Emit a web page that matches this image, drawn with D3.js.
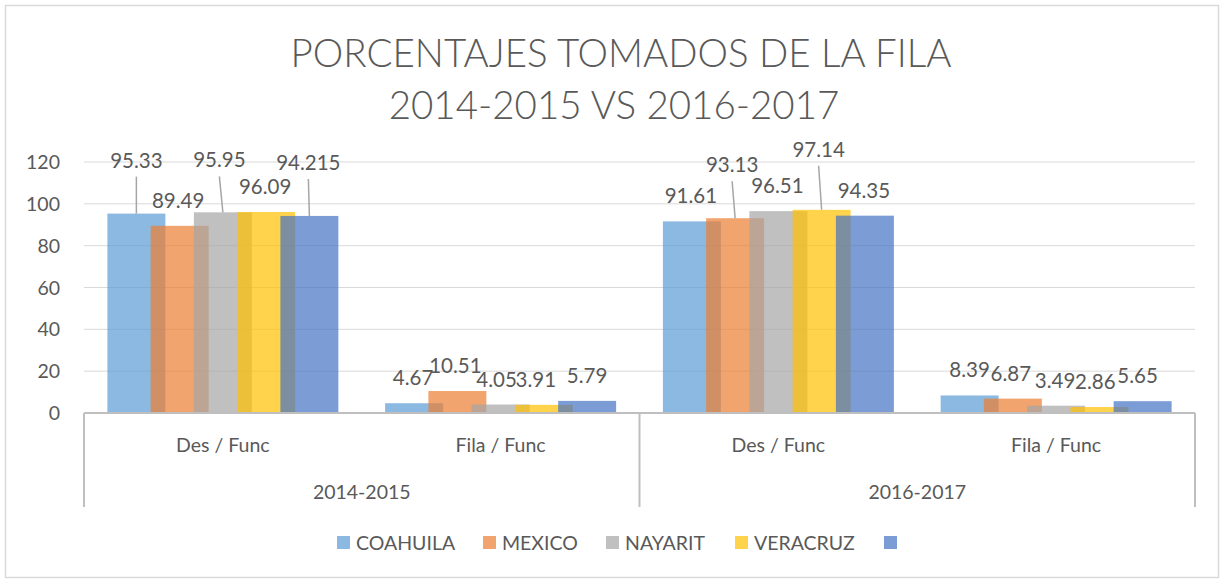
<!DOCTYPE html>
<html>
<head>
<meta charset="utf-8">
<script src="https://cdn.jsdelivr.net/npm/d3@7"></script>
<style>
  body { margin: 0; background: #fff; }
  text { font-family: Lato, "Open Sans", sans-serif; fill: #595959; }
</style>
</head>
<body>
<script>
const W = 1224, H = 580;

// data
const categories = ['Des / Func', 'Fila / Func', 'Des / Func', 'Fila / Func'];
const periods = ['2014-2015', '2016-2017'];
const seriesNames = ['COAHUILA', 'MEXICO', 'NAYARIT', 'VERACRUZ', ''];
const coahuila = [95.33, 4.67, 91.61, 8.39];
const mexico = [89.49, 10.51, 93.13, 6.87];
const nayarit = [95.95, 4.05, 96.51, 3.49];
const veracruz = [96.09, 3.91, 97.14, 2.86];
const fifth = [94.215, 5.79, 94.35, 5.65];
const yTicks = [0, 20, 40, 60, 80, 100, 120];

const colors = ['#5B9BD5', '#ED7D31', '#A5A5A5', '#FFC000', '#4472C4'];
const seriesVals = [coahuila, mexico, nayarit, veracruz, fifth];

// label nudges (label moved off the bar top as in the original), per series per category
const nudge = [
  [[0, -28], [-1, 0], [-1, 0], [0, 0]],
  [[-1.5, 0], [-2, 0], [-3, -28], [-2, 0]],
  [[-3.5, -27], [-4, 0], [-1, 0], [-1, 0]],
  [[-1, 0], [-8, 0], [-3, -35], [-4, 0]],
  [[-1, -28], [0, 0], [-1, 0], [-5, 0]]
];

const plot = { left: 84, right: 1195, top: 162, bottom: 413 };

const svg = d3.select('body').append('svg').attr('width', W).attr('height', H);

// chart border
svg.append('rect')
  .attr('x', 5.5).attr('y', 5.5).attr('width', W - 11).attr('height', H - 8)
  .attr('fill', '#fff').attr('stroke', '#D9D9D9').attr('stroke-width', 1.5);

// title
svg.append('text').text('PORCENTAJES TOMADOS DE LA FILA')
  .attr('x', 621).attr('y', 67).attr('text-anchor', 'middle')
  .attr('font-size', 38.5).attr('font-weight', 300);
svg.append('text').text('2014-2015 VS 2016-2017')
  .attr('x', 614).attr('y', 119).attr('text-anchor', 'middle')
  .attr('font-size', 38.5).attr('font-weight', 300);

const y = d3.scaleLinear().domain([0, 120]).range([plot.bottom, plot.top]);
const x = d3.scaleBand().domain(d3.range(categories.length))
  .range([plot.left, plot.right]).paddingInner(0).paddingOuter(0);

// bars overlap: width 58 of a step of 43.25 inside each group
const barW = x.bandwidth() * 0.2088;
const inner = d3.scaleLinear().domain([0, 4])
  .range([-115.5 + barW / 2, 115.5 - barW / 2]);
const cx = (c, s) => x(c) + x.bandwidth() / 2 + inner(s);

// gridlines
svg.append('g').selectAll('line').data(yTicks.slice(1)).enter().append('line')
  .attr('x1', plot.left).attr('x2', plot.right)
  .attr('y1', d => y(d)).attr('y2', d => y(d))
  .attr('stroke', '#D9D9D9').attr('stroke-width', 1);

// y tick labels
svg.append('g').selectAll('text').data(yTicks).enter().append('text')
  .text(d => d)
  .attr('x', 60).attr('y', d => y(d) + 7)
  .attr('text-anchor', 'end').attr('font-size', 19.5);

// bars
seriesVals.forEach((vals, s) => {
  svg.append('g').selectAll('rect').data(vals).enter().append('rect')
    .attr('x', (d, c) => cx(c, s) - barW / 2)
    .attr('y', d => y(d))
    .attr('width', barW)
    .attr('height', d => y(0) - y(d))
    .attr('fill', colors[s]).attr('fill-opacity', 0.7);
});

// axis lines
svg.append('line')
  .attr('x1', plot.left).attr('x2', plot.right)
  .attr('y1', plot.bottom).attr('y2', plot.bottom)
  .attr('stroke', '#BFBFBF').attr('stroke-width', 2);
[plot.left, x(2), plot.right].forEach(px => {
  svg.append('line')
    .attr('x1', px).attr('x2', px).attr('y1', plot.bottom).attr('y2', 507)
    .attr('stroke', '#BFBFBF').attr('stroke-width', 2);
});

// category labels
svg.append('g').selectAll('text').data(categories).enter().append('text')
  .text(d => d)
  .attr('x', (d, i) => x(i) + x.bandwidth() / 2).attr('y', 452)
  .attr('text-anchor', 'middle').attr('font-size', 19.5);
svg.append('g').selectAll('text').data(periods).enter().append('text')
  .text(d => d)
  .attr('x', (d, i) => x(i * 2) + x.bandwidth()).attr('y', 499)
  .attr('text-anchor', 'middle').attr('font-size', 19.5);

// data labels + leader lines
seriesVals.forEach((vals, s) => {
  vals.forEach((v, c) => {
    const bx = cx(c, s), by = y(v);
    const [dx, dy] = nudge[s][c];
    const lx = bx + dx, ly = by - 18 + dy;
    if (dy < -20) {
      svg.append('line')
        .attr('x1', bx).attr('y1', by).attr('x2', lx).attr('y2', ly + 9)
        .attr('stroke', '#A6A6A6').attr('stroke-width', 1.5);
    }
    svg.append('text').text(v)
      .attr('x', lx).attr('y', ly)
      .attr('text-anchor', 'middle').attr('font-size', 20.5);
  });
});

// legend
const legX = [337, 483, 606, 735, 884];
const leg = svg.append('g');
seriesNames.forEach((n, i) => {
  leg.append('rect').attr('x', legX[i]).attr('y', 536).attr('width', 13).attr('height', 13)
    .attr('fill', colors[i]).attr('fill-opacity', 0.7);
  leg.append('text').text(n).attr('x', legX[i] + 19).attr('y', 549.5)
    .attr('font-size', 19.5);
});
</script>
</body>
</html>
